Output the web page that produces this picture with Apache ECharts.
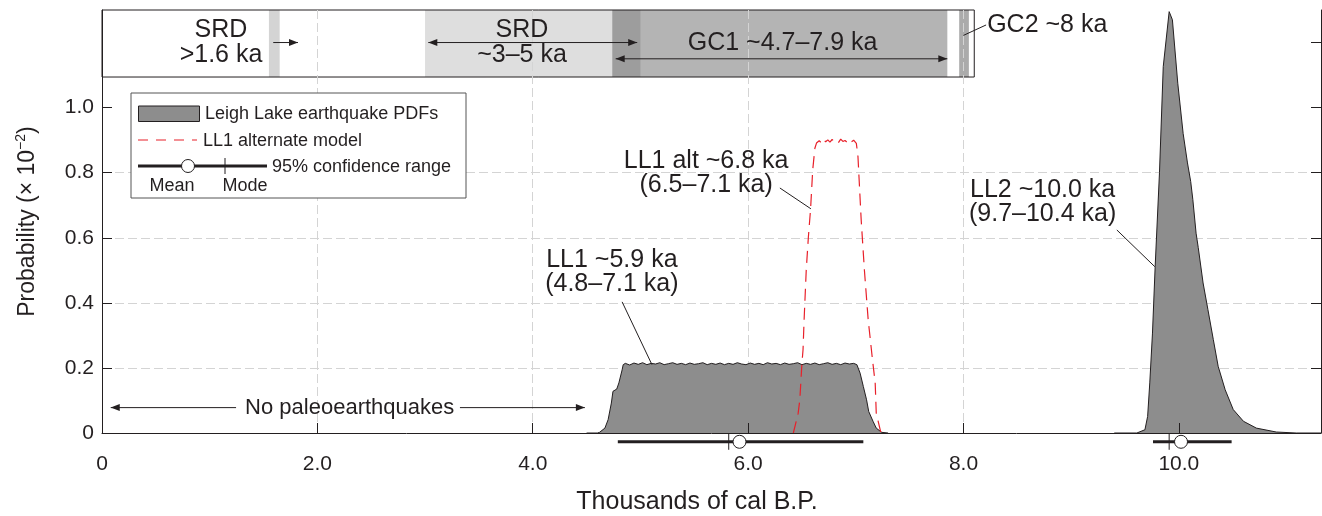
<!DOCTYPE html>
<html>
<head>
<meta charset="utf-8">
<script src="https://cdn.jsdelivr.net/npm/echarts@6.0.0/dist/echarts.min.js"></script>
<style>
html, body { margin: 0; padding: 0; background: #fff; }
#chart { width: 1322px; height: 516px; }
</style>
</head>
<body>
<div id="chart"></div>
<script>
var FONT = '"Liberation Sans", Arial, Helvetica, sans-serif';
var INK = '#231f20';
var PDF_FILL = '#8d8d8d';
var ALT_RED = '#e8202a';
var GRID_GRAY = '#d4d4d4';

// axes (thousands of cal B.P. / probability x 10^-2)
var xMax = 11.32;
var yMax = 1.3;
var xTickValues = [0, 2, 4, 6, 8, 10];
var yTickValues = [0, 0.2, 0.4, 0.6, 0.8, 1.0, 1.2];
var yLabelValues = [0, 0.2, 0.4, 0.6, 0.8, 1.0];

// earthquake PDFs, [ka, probability]
var ll1Pdf = [
    [4.50, 0], [4.60, 0], [4.62, 0.002], [4.67, 0.015], [4.70, 0.041], [4.73, 0.092],
    [4.745, 0.128], [4.78, 0.135], [4.80, 0.154], [4.83, 0.194], [4.84, 0.210],
    [4.86, 0.214], [4.90, 0.209], [4.94, 0.215], [4.98, 0.211], [5.02, 0.216],
    [5.06, 0.210], [5.10, 0.214], [5.14, 0.212], [5.18, 0.216], [5.22, 0.210],
    [5.26, 0.213], [5.30, 0.216], [5.34, 0.211], [5.38, 0.214], [5.42, 0.210],
    [5.46, 0.215], [5.50, 0.211], [5.54, 0.213], [5.58, 0.216], [5.62, 0.210],
    [5.66, 0.214], [5.70, 0.211], [5.74, 0.215], [5.78, 0.210], [5.82, 0.214],
    [5.86, 0.211], [5.90, 0.216], [5.94, 0.212], [5.98, 0.210], [6.02, 0.215],
    [6.06, 0.211], [6.10, 0.214], [6.14, 0.210], [6.18, 0.216], [6.22, 0.212],
    [6.26, 0.214], [6.30, 0.210], [6.34, 0.215], [6.38, 0.211], [6.42, 0.213],
    [6.46, 0.216], [6.50, 0.210], [6.54, 0.214], [6.58, 0.211], [6.62, 0.215],
    [6.66, 0.210], [6.70, 0.213], [6.74, 0.216], [6.78, 0.211], [6.82, 0.214],
    [6.86, 0.210], [6.90, 0.215], [6.94, 0.212], [6.98, 0.214], [7.01, 0.210],
    [7.04, 0.184], [7.07, 0.143], [7.10, 0.102], [7.12, 0.066], [7.16, 0.036],
    [7.19, 0.015], [7.24, 0.002], [7.30, 0]
];
var ll1AltPdf = [
    [6.42, 0], [6.425, 0.005], [6.465, 0.061], [6.48, 0.102], [6.50, 0.215], [6.51, 0.256],
    [6.52, 0.348], [6.54, 0.502], [6.56, 0.604], [6.58, 0.688], [6.60, 0.809],
    [6.62, 0.875], [6.635, 0.891], [6.66, 0.898], [6.68, 0.892], [6.70, 0.903],
    [6.72, 0.895], [6.74, 0.901], [6.76, 0.894], [6.78, 0.902], [6.80, 0.896],
    [6.82, 0.900], [6.84, 0.893], [6.86, 0.903], [6.88, 0.896], [6.90, 0.899],
    [6.92, 0.893], [6.94, 0.901], [6.96, 0.895], [6.98, 0.900], [7.005, 0.890],
    [7.02, 0.850], [7.05, 0.655], [7.08, 0.500], [7.115, 0.348], [7.155, 0.225],
    [7.18, 0.154], [7.19, 0.061], [7.23, 0.005], [7.26, 0]
];
var ll2Pdf = [
    [9.40, 0], [9.61, 0], [9.685, 0.010], [9.71, 0.051], [9.73, 0.154], [9.755, 0.307],
    [9.78, 0.512], [9.82, 0.800], [9.855, 1.126], [9.91, 1.295],
    [9.94, 1.270], [9.99, 1.075], [10.04, 0.920], [10.08, 0.830], [10.11, 0.773],
    [10.13, 0.717], [10.16, 0.614], [10.18, 0.570], [10.225, 0.461], [10.27, 0.379],
    [10.32, 0.287], [10.365, 0.205], [10.43, 0.133], [10.505, 0.072], [10.60, 0.036],
    [10.72, 0.015], [10.905, 0.003], [11.09, 0], [11.32, 0]
];

// 95% confidence ranges
var ciLow = [4.79, 9.76];
var ciHigh = [7.07, 10.49];
var ciMean = [5.92, 10.02];
var ciMode = [5.82, 9.91];
var ciLevel = -0.027;

// stratigraphic constraints strip
var stripSpan = [0, 8.1];
var stripLevels = [1.094, 1.3];
var srdOld = [1.55, 1.65];
var srdYoung = [3.0, 5.0];
var gc1 = [4.74, 7.85];
var gc2 = [7.96, 8.05];

// annotations
var noteText = ['SRD\n>1.6 ka', 'SRD\n~3–5 ka', 'GC1 ~4.7–7.9 ka', 'GC2 ~8 ka',
    'No paleoearthquakes', 'LL1 ~5.9 ka\n(4.8–7.1 ka)', 'LL1 alt ~6.8 ka\n(6.5–7.1 ka)',
    'LL2 ~10.0 ka\n(9.7–10.4 ka)'];
var noteX = [1.105, 3.90, 6.32, 8.22, 2.30, 4.735, 5.61, 8.735];
var noteY = [1.200, 1.200, 1.199, 1.254, 0.078, 0.495, 0.798, 0.709];
var noteAlign = ['center', 'center', 'center', 'left', 'center', 'center', 'center', 'center'];
var noteSize = [25, 25, 25, 25, 22, 25, 25, 25];
var leaders = [
    [8.0, 1.222, 8.21, 1.254],
    [4.83, 0.403, 5.107, 0.21],
    [6.295, 0.753, 6.583, 0.689],
    [9.424, 0.624, 9.777, 0.511]
];
// x0, y0, x1, y1, heads (1 = end only, 2 = both)
var arrows = [
    [1.59, 1.2, 1.82, 1.2, 1],
    [3.03, 1.2, 4.97, 1.2, 2],
    [4.77, 1.15, 7.85, 1.15, 2],
    [1.245, 0.078, 0.081, 0.078, 1],
    [3.324, 0.078, 4.484, 0.078, 1]
];

function fmtTick(v) {
    return v === 0 ? '0' : (+v).toFixed(1);
}

function head(tip, from) {
    var dx = tip[0] - from[0], dy = tip[1] - from[1];
    var len = Math.sqrt(dx * dx + dy * dy);
    var ux = dx / len, uy = dy / len, L = 9, W = 3.5;
    var bx = tip[0] - ux * L, by = tip[1] - uy * L;
    return {
        type: 'polygon',
        shape: { points: [[tip[0], tip[1]], [bx - uy * W, by + ux * W], [bx + uy * W, by - ux * W]] },
        style: { fill: INK }
    };
}

function renderStrip(params, api) {
    function rect(span, lv, fill, stroke) {
        var a = api.coord([span[0], lv[1]]);
        var b = api.coord([span[1], lv[0]]);
        return {
            type: 'rect',
            shape: { x: a[0], y: a[1], width: b[0] - a[0], height: b[1] - a[1] },
            style: { fill: fill, stroke: stroke || null, lineWidth: 1 }
        };
    }
    return {
        type: 'group',
        children: [
            rect(stripSpan, stripLevels, '#fff'),
            rect(srdOld, stripLevels, '#d4d4d4'),
            rect(srdYoung, stripLevels, '#dedede'),
            rect(gc1, stripLevels, '#b4b4b4'),
            rect([gc1[0], srdYoung[1]], stripLevels, '#9d9d9d'),
            rect(gc2, stripLevels, '#ababab'),
            rect(stripSpan, stripLevels, 'none', INK)
        ]
    };
}

function renderCi(params, api) {
    var lo = api.coord([api.value(0), ciLevel]);
    var hi = api.coord([api.value(1), ciLevel]);
    var mean = api.coord([api.value(2), ciLevel]);
    var mode = api.coord([api.value(3), ciLevel]);
    return {
        type: 'group',
        children: [
            { type: 'line', shape: { x1: lo[0], y1: lo[1], x2: hi[0], y2: hi[1] }, style: { stroke: INK, lineWidth: 3 } },
            { type: 'line', shape: { x1: mode[0], y1: mode[1] - 8, x2: mode[0], y2: mode[1] + 8 }, style: { stroke: INK, lineWidth: 1 } },
            { type: 'circle', shape: { cx: mean[0], cy: mean[1], r: 6.5 }, style: { fill: '#fff', stroke: INK, lineWidth: 1 } }
        ]
    };
}

function renderNotes(params, api) {
    var kids = [];
    leaders.forEach(function (l) {
        var a = api.coord([l[0], l[1]]), b = api.coord([l[2], l[3]]);
        kids.push({ type: 'line', shape: { x1: a[0], y1: a[1], x2: b[0], y2: b[1] }, style: { stroke: INK, lineWidth: 1 } });
    });
    arrows.forEach(function (r) {
        var a = api.coord([r[0], r[1]]), b = api.coord([r[2], r[3]]);
        kids.push({ type: 'line', shape: { x1: a[0], y1: a[1], x2: b[0], y2: b[1] }, style: { stroke: INK, lineWidth: 1 } });
        kids.push(head(b, a));
        if (r[4] === 2) kids.push(head(a, b));
    });
    noteText.forEach(function (t, i) {
        var p = api.coord([noteX[i], noteY[i]]);
        kids.push({
            type: 'text', x: p[0], y: p[1],
            style: {
                text: t, fill: INK, fontSize: noteSize[i], fontFamily: FONT,
                align: noteAlign[i], verticalAlign: 'middle', lineHeight: 24.5
            }
        });
    });
    return { type: 'group', children: kids };
}

var chart = echarts.init(document.getElementById('chart'));

var legendZ = 20;
var legendGraphic = [
    { type: 'rect', z: legendZ, shape: { x: 131, y: 93, width: 335, height: 105 }, style: { fill: '#fff', stroke: '#555', lineWidth: 1 } },
    { type: 'rect', z: legendZ, shape: { x: 138.5, y: 106, width: 61, height: 15.5 }, style: { fill: PDF_FILL, stroke: INK, lineWidth: 1 } },
    { type: 'text', z: legendZ, x: 205, y: 114, style: { text: 'Leigh Lake earthquake PDFs', fill: INK, fontSize: 18, fontFamily: FONT, verticalAlign: 'middle' } },
    { type: 'line', z: legendZ, shape: { x1: 138, y1: 140, x2: 197, y2: 140 }, style: { stroke: ALT_RED, lineWidth: 1.2, lineDash: [10, 8] } },
    { type: 'text', z: legendZ, x: 203, y: 141, style: { text: 'LL1 alternate model', fill: INK, fontSize: 18, fontFamily: FONT, verticalAlign: 'middle' } },
    { type: 'line', z: legendZ, shape: { x1: 138, y1: 166, x2: 267, y2: 166 }, style: { stroke: INK, lineWidth: 3 } },
    { type: 'line', z: legendZ, shape: { x1: 225, y1: 158, x2: 225, y2: 174 }, style: { stroke: INK, lineWidth: 1 } },
    { type: 'circle', z: legendZ, shape: { cx: 188, cy: 166, r: 6.5 }, style: { fill: '#fff', stroke: INK, lineWidth: 1 } },
    { type: 'text', z: legendZ, x: 272, y: 167, style: { text: '95% confidence range', fill: INK, fontSize: 18, fontFamily: FONT, verticalAlign: 'middle' } },
    { type: 'text', z: legendZ, x: 172, y: 186, style: { text: 'Mean', fill: INK, fontSize: 18, fontFamily: FONT, align: 'center', verticalAlign: 'middle' } },
    { type: 'text', z: legendZ, x: 245, y: 186, style: { text: 'Mode', fill: INK, fontSize: 18, fontFamily: FONT, align: 'center', verticalAlign: 'middle' } }
];

var option = {
    animation: false,
    backgroundColor: '#fff',
    grid: { left: 102, right: 1, top: 10, bottom: 83, containLabel: false, outerBoundsMode: 'none' },
    xAxis: {
        type: 'value', min: 0, max: xMax, interval: 2, z: 3,
        name: 'Thousands of cal B.P.', nameLocation: 'middle', nameGap: 57,
        nameTextStyle: { fontSize: 25, color: INK, fontFamily: FONT, padding: [0, 29, 0, 0] },
        axisLine: { show: true, onZero: false, lineStyle: { color: INK, width: 1 } },
        axisTick: { show: true, inside: true, length: 10, customValues: xTickValues, lineStyle: { color: INK } },
        axisLabel: { customValues: xTickValues, margin: 21, fontSize: 21, color: INK, fontFamily: FONT, formatter: fmtTick },
        splitLine: { show: true, showMinLine: false, showMaxLine: false, lineStyle: { color: GRID_GRAY, type: [9, 4], width: 1 } }
    },
    yAxis: [
        {
            type: 'value', min: 0, max: yMax, interval: 0.2, z: 3, position: 'left',
            name: '{a|Probability (× 10}{s|−2}{a|)}', nameLocation: 'middle', nameGap: 60, nameRotate: 90,
            nameTextStyle: {
                rich: {
                    a: { fontSize: 23, color: INK, fontFamily: FONT, lineHeight: 28 },
                    s: { fontSize: 14, color: INK, fontFamily: FONT, verticalAlign: 'top', lineHeight: 28 }
                }
            },
            axisLine: { show: true, lineStyle: { color: INK, width: 1 } },
            axisTick: { show: true, inside: true, length: 10, customValues: yLabelValues, lineStyle: { color: INK } },
            axisLabel: {
                customValues: yLabelValues, margin: 8, fontSize: 21, color: INK, fontFamily: FONT,
                formatter: function (v) { return v > 1.1 ? '' : fmtTick(v); }
            },
            splitLine: { show: true, showMinLine: false, showMaxLine: false, lineStyle: { color: GRID_GRAY, type: [9, 4], width: 1 } }
        },
        {
            type: 'value', min: 0, max: yMax, interval: 0.2, z: 3, position: 'right',
            axisLine: { show: true, lineStyle: { color: INK, width: 1 } },
            axisTick: { show: true, inside: true, length: 10, customValues: yTickValues, lineStyle: { color: INK } },
            axisLabel: { show: false },
            splitLine: { show: false }
        }
    ],
    graphic: legendGraphic,
    series: [
        {
            name: 'Stratigraphic constraints', type: 'custom', z: 1, silent: true, clip: false,
            renderItem: renderStrip, data: [[0, 0]]
        },
        {
            name: 'Leigh Lake earthquake PDFs', type: 'line', data: ll1Pdf, showSymbol: false, silent: true,
            lineStyle: { color: INK, width: 1 }, areaStyle: { color: PDF_FILL, opacity: 1 }
        },
        {
            name: 'Leigh Lake earthquake PDFs', type: 'line', data: ll2Pdf, showSymbol: false, silent: true,
            lineStyle: { color: INK, width: 1 }, areaStyle: { color: PDF_FILL, opacity: 1 }
        },
        {
            name: 'LL1 alternate model', type: 'line', data: ll1AltPdf, showSymbol: false, silent: true,
            lineStyle: { color: ALT_RED, width: 1.2, type: [12, 7] }
        },
        {
            name: '95% confidence range', type: 'custom', z: 5, silent: true, clip: false,
            renderItem: renderCi,
            data: ciLow.map(function (lo, i) { return [lo, ciHigh[i], ciMean[i], ciMode[i]]; })
        },
        {
            name: 'Annotations', type: 'custom', z: 5, silent: true, clip: false,
            renderItem: renderNotes, data: [[0, 0]]
        }
    ]
};

chart.setOption(option);
</script>
</body>
</html>
